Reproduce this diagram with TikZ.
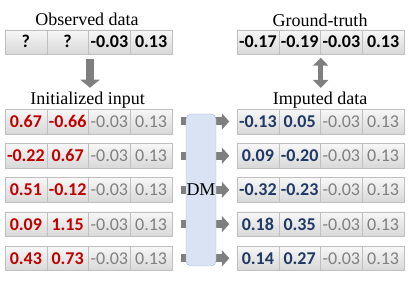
\documentclass[tikz,border=0pt]{standalone}
\usepackage{fontspec}
\setmainfont{Liberation Serif}
\newfontfamily\numfont{Carlito}
\usetikzlibrary{arrows.meta,calc}
\definecolor{cellTop}{HTML}{F7F7F7}
\definecolor{cellBot}{HTML}{D8D8D8}
\definecolor{cellLine}{HTML}{BFBFBF}
\definecolor{redv}{HTML}{C00000}
\definecolor{bluev}{HTML}{1F3864}
\definecolor{grayv}{HTML}{808080}
\definecolor{arrowgray}{HTML}{7F7F7F}
\definecolor{dmfill}{HTML}{DAE3F3}
\definecolor{dmline}{HTML}{9DB7E4}
\newcommand\numsz{\fontsize{18}{20}\selectfont}
\begin{document}
\begin{tikzpicture}[x=1pt,y=-1pt,
  cell/.style={draw=cellLine, top color=cellTop, bottom color=cellBot,
    minimum width=41.75pt, minimum height=24.5pt, inner sep=0pt,
    text height=12pt, text depth=0pt},
  kv/.style={cell, text=black, font=\numfont\bfseries\numsz},
  rv/.style={cell, text=redv, font=\numfont\bfseries\numsz},
  bv/.style={cell, text=bluev, font=\numfont\bfseries\numsz},
  gv/.style={cell, text=grayv, font=\numfont\numsz},
  lbl/.style={font=\numsz, inner sep=0pt, anchor=base},
  rowarrow/.style={draw=arrowgray, line width=8pt, -{Triangle[width=16pt,length=7.5pt,fill=arrowgray]}},
  downarrow/.style={draw=arrowgray, line width=8pt, -{Triangle[width=19pt,length=8pt,fill=arrowgray]}},
  dblarrow/.style={draw=arrowgray, line width=5.5pt, {Triangle[width=15pt,length=8pt,fill=arrowgray]}-{Triangle[width=15pt,length=8pt,fill=arrowgray]}},
  dmbox/.style={draw=dmline, fill=dmfill, rounded corners=5pt, minimum width=30pt,
    minimum height=152pt, inner sep=0pt, font=\numsz}
]
\useasboundingbox (0,0) rectangle (409,291);

% labels
\node[lbl] (lobs) at (87,26) {Observed data};
\node[lbl] (lgt) at (320,26.5) {Ground-truth};
\node[lbl] (lin) at (87.5,105) {Initialized input};
\node[lbl] (limp) at (320,105) {Imputed data};

% observed and ground truth rows
\node[kv] (o1) at (25.875,42) {?};
\node[kv] (o2) at (67.625,42) {?};
\node[kv] (o3) at (109.375,42) {-0.03};
\node[kv] (o4) at (151.125,42) {0.13};
\node[kv] (g1) at (257.875,42) {-0.17};
\node[kv] (g2) at (299.625,42) {-0.19};
\node[kv] (g3) at (341.375,42) {-0.03};
\node[kv] (g4) at (383.125,42) {0.13};

% rows
\foreach \i/\a/\b/\c/\d in {1/0.67/-0.66/-0.13/0.05,
                            2/-0.22/0.67/0.09/-0.20,
                            3/0.51/-0.12/-0.32/-0.23,
                            4/0.09/1.15/0.18/0.35,
                            5/0.43/0.73/0.14/0.27}{
  \pgfmathsetmacro\yy{121.5+(\i-1)*34.2}
  \node[rv] (r\i-1) at (25.875,\yy) {\a};
  \node[rv] (r\i-2) at (67.625,\yy) {\b};
  \node[gv] (r\i-3) at (109.375,\yy) {-0.03};
  \node[gv] (r\i-4) at (151.125,\yy) {0.13};
  \node[bv] (m\i-1) at (257.875,\yy) {\c};
  \node[bv] (m\i-2) at (299.625,\yy) {\d};
  \node[gv] (m\i-3) at (341.375,\yy) {-0.03};
  \node[gv] (m\i-4) at (383.125,\yy) {0.13};
  \draw[rowarrow] ($(r\i-4.east)+(8.5,0)$) -- ($(m\i-1.west)+(-7.5,0)$);
}

% vertical arrows
\draw[downarrow] ($(o2.south east)+(1.3,4.3)$) -- ($(o2.south east)+(1.3,33.3)$);
\draw[dblarrow] ($(g2.south east)+(0,3.3)$) -- ($(g2.south east)+(0,33.5)$);

% DM box
\node[dmbox] (dm) at (201,190) {DM};
\end{tikzpicture}
\end{document}
